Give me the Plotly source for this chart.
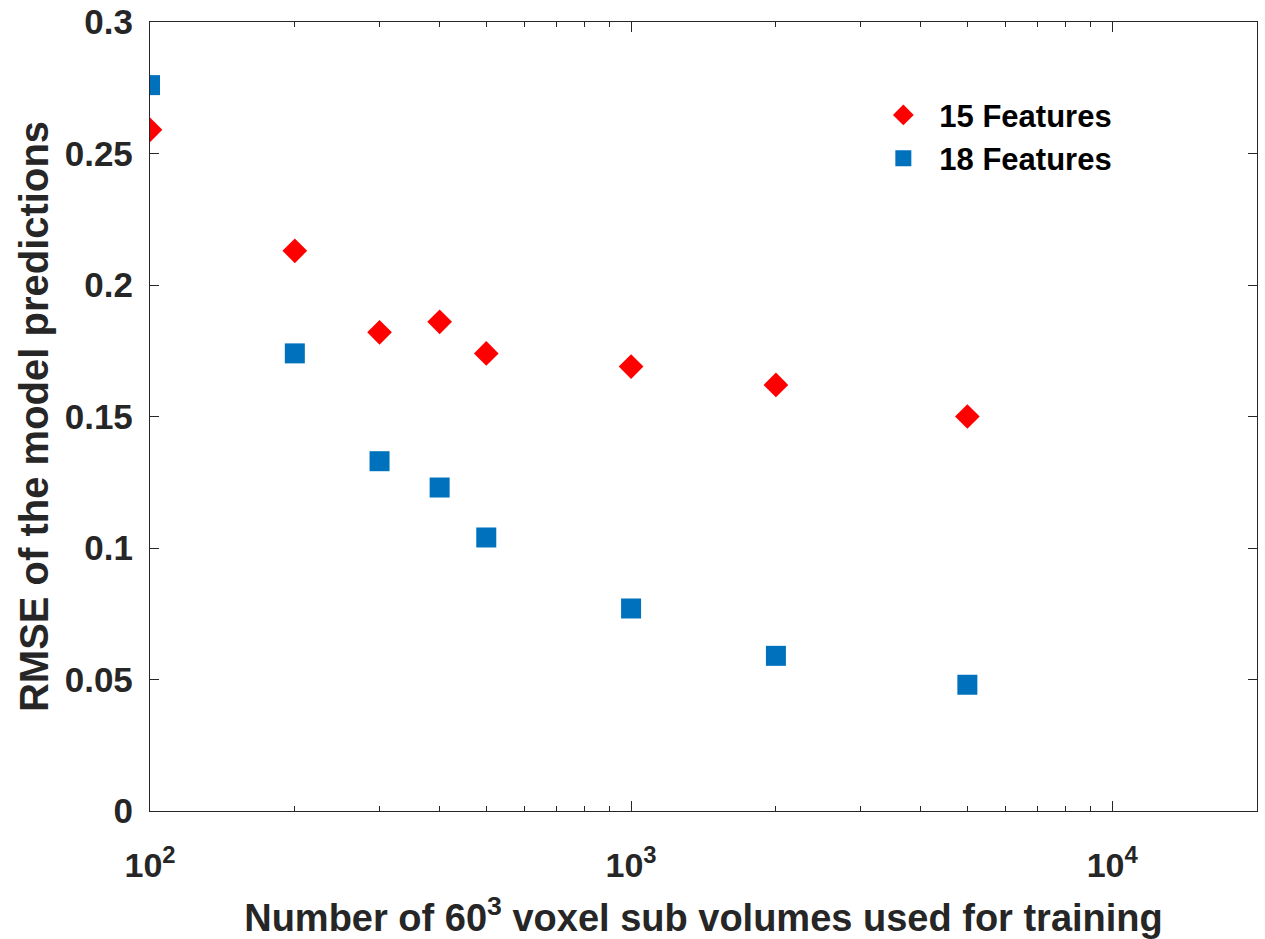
import plotly.graph_objects as go

# Training set sizes (number of 60^3 voxel sub volumes)
n_subvolumes = [100, 200, 300, 400, 500, 1000, 2000, 5000]

# RMSE of model predictions for each feature set
rmse_15_features = [0.259, 0.213, 0.182, 0.186, 0.174, 0.169, 0.162, 0.150]
rmse_18_features = [0.276, 0.174, 0.133, 0.123, 0.104, 0.077, 0.059, 0.048]

series_names = ["15 Features", "18 Features"]

x_tick_values = [100, 1000, 10000]
x_tick_labels = ["10<sup>2</sup>", "10<sup>3</sup>", "10<sup>4</sup>"]
x_minor_values = [m * d for d in (100, 1000, 10000) for m in range(2, 10)]
y_tick_values = [0, 0.05, 0.1, 0.15, 0.2, 0.25, 0.3]
y_tick_labels = ["0", "0.05", "0.1", "0.15", "0.2", "0.25", "0.3"]

FONT = "Liberation Sans, Arial, Helvetica, sans-serif"
TXT = "#262626"

fig = go.Figure()
fig.add_trace(go.Scatter(
    x=n_subvolumes, y=rmse_15_features, name=series_names[0], mode="markers",
    marker=dict(symbol="diamond", size=19, color="#FF0000", line=dict(width=0)),
))
fig.add_trace(go.Scatter(
    x=n_subvolumes, y=rmse_18_features, name=series_names[1], mode="markers",
    marker=dict(symbol="square", size=20, color="#0072BD", line=dict(width=0)),
))

axis_common = dict(
    showline=True, linecolor=TXT, linewidth=1.3, mirror="ticks",
    ticks="inside", tickcolor=TXT, tickwidth=1.3,
    showgrid=False, zeroline=False, automargin=False,
)

fig.update_xaxes(
    type="log", range=[2, 4.30103],
    tickvals=x_tick_values, ticktext=x_tick_labels, ticklen=10,
    ticklabelstandoff=24,
    tickfont=dict(family=FONT, size=34, color=TXT, weight="bold"),
    minor=dict(tickmode="array", tickvals=x_minor_values, ticks="inside",
               ticklen=5, tickcolor=TXT, tickwidth=1.3, showgrid=False),
    title=dict(text="Number of 60<sup>3</sup> voxel sub volumes used for training",
               font=dict(family=FONT, size=38, color=TXT, weight="bold"), standoff=22),
    **axis_common,
)
fig.update_yaxes(
    range=[0, 0.3], tickvals=y_tick_values, ticktext=y_tick_labels, ticklen=9,
    ticklabelstandoff=9,
    tickfont=dict(family=FONT, size=35, color=TXT, weight="bold"),
    title=dict(text="RMSE of the model predictions",
               font=dict(family=FONT, size=40, color=TXT, weight="bold"), standoff=3),
    **axis_common,
)

fig.update_layout(
    width=1265, height=939,
    margin=dict(l=150, r=8, t=22, b=128),
    plot_bgcolor="white", paper_bgcolor="white",
    showlegend=True,
    legend=dict(
        x=0.648, y=0.916, xanchor="left", yanchor="top",
        font=dict(family=FONT, size=31, color="#000000", weight="bold"),
        bgcolor="rgba(0,0,0,0)", borderwidth=0, itemsizing="trace",
        itemwidth=62, tracegroupgap=4,
    ),
)

fig.write_html("out.html")
